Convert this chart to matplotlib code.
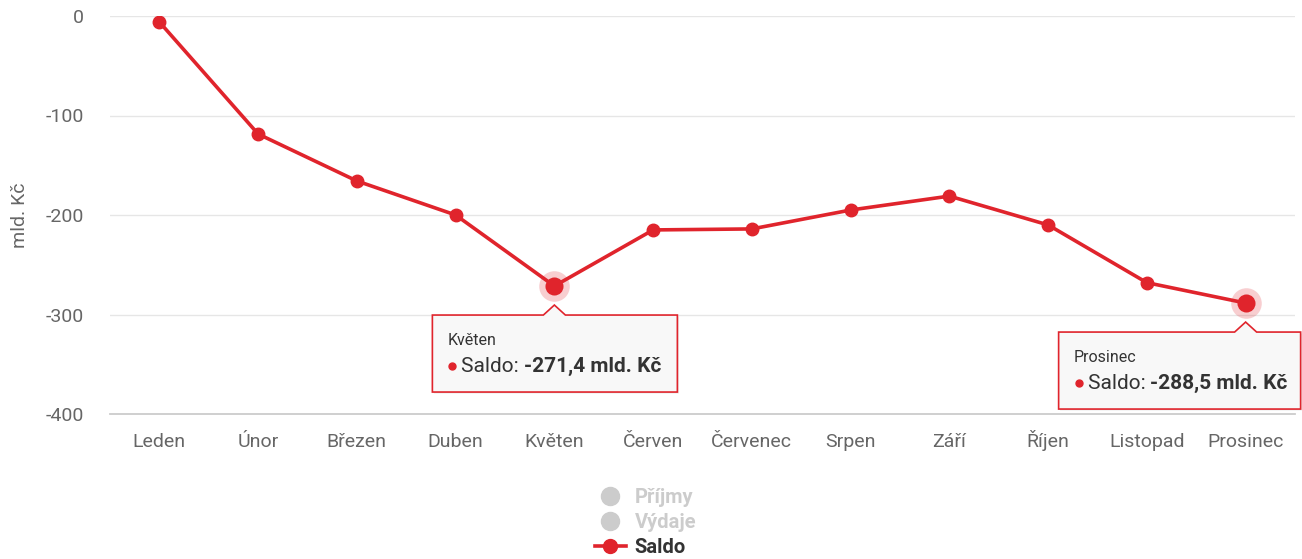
import matplotlib.pyplot as plt
from matplotlib import transforms
from matplotlib.lines import Line2D
from matplotlib.patches import Polygon

# data (mld. Kč)
months = ['Leden', 'Únor', 'Březen', 'Duben', 'Květen', 'Červen',
          'Červenec', 'Srpen', 'Září', 'Říjen', 'Listopad', 'Prosinec']
saldo = [-6.0, -118.6, -165.8, -200.0, -271.4, -215.0,
         -214.0, -195.0, -181.0, -210.0, -268.0, -288.5]
yticks = [0, -100, -200, -300, -400]
highlight = [4, 11]
legend_labels = ['Příjmy', 'Výdaje', 'Saldo']

RED = '#e0242c'
GREY_TXT = '#666666'
plt.rcParams['font.family'] = ['Roboto', 'DejaVu Sans']

fig = plt.figure(figsize=(13.02, 5.59), dpi=100)
ax = fig.add_axes([110 / 1302, 145 / 559, 1185 / 1302, 398 / 559])

x = list(range(len(months)))
ax.plot(x, saldo, color=RED, lw=2.6, marker='o', ms=9, zorder=3)

ax.set_xlim(-0.5, len(months) - 0.5)
ax.set_ylim(-400, 0)
ax.set_xticks(x)
ax.set_xticklabels(months, va='baseline')
ax.set_yticks(yticks)
ax.set_yticklabels([str(t) for t in yticks])
ax.tick_params(length=0, labelsize=14, labelcolor=GREY_TXT)
ax.tick_params(axis='x', pad=23.5)
ax.tick_params(axis='y', pad=19)
ax.set_ylabel('mld. Kč', fontsize=14, color=GREY_TXT, labelpad=12)
ax.grid(True, axis='y', color='#e6e6e6', lw=1)
ax.set_axisbelow(True)
for name, sp in ax.spines.items():
    sp.set_visible(name == 'bottom')
ax.spines['bottom'].set_color('#cccccc')
ax.spines['bottom'].set_linewidth(1.3)

# box layout in pixels relative to the hovered point: (left, right)
box_side = {4: (-122, 123), 11: (-187, 55)}
top, bottom, tip = -29, -106, -19

for i in highlight:
    xi, yi = x[i], saldo[i]
    ax.plot(xi, yi, 'o', ms=22, color=RED, alpha=0.22, mec='none', zorder=4)
    ax.plot(xi, yi, 'o', ms=13, color=RED, mec='none', zorder=5)

    trans = fig.dpi_scale_trans + transforms.ScaledTranslation(xi, yi, ax.transData)
    l, r = box_side[i]
    pts = [(l, top), (-11, top), (0, tip), (11, top), (r, top), (r, bottom), (l, bottom)]
    shadow = Polygon([(px / 100 + 0.015, py / 100 - 0.015) for px, py in pts],
                     closed=True, transform=trans, fc='#000000', alpha=0.08,
                     ec='none', zorder=6, clip_on=False)
    box = Polygon([(px / 100, py / 100) for px, py in pts], closed=True,
                  transform=trans, fc='#f8f8f8', ec=RED, lw=1.2, zorder=7,
                  clip_on=False)
    ax.add_patch(shadow)
    ax.add_patch(box)

    ax.text((l + 15) / 100, -0.54, months[i], transform=trans, fontsize=11.5,
            color='#333333', va='center', ha='left', zorder=8)
    ax.plot([(l + 20) / 100], [-0.80], 'o', ms=5, color=RED, transform=trans,
            zorder=8, clip_on=False)
    t1 = ax.text((l + 29) / 100, -0.80, 'Saldo: ', transform=trans, fontsize=15,
                 color='#333333', va='center', ha='left', zorder=8)
    val = f'{saldo[i]:.1f}'.replace('.', ',')
    ax.annotate(f'{val} mld. Kč', xy=(1, 0.5), xycoords=t1, va='center', ha='left',
                fontsize=15, fontweight='bold', color='#333333', zorder=8)

# legend
handles = [
    Line2D([], [], color='#cccccc', marker='o', ls='none', ms=13),
    Line2D([], [], color='#cccccc', marker='o', ls='none', ms=13),
    Line2D([], [], color=RED, marker='o', lw=2.6, ms=10),
]
leg = fig.legend(handles, legend_labels, loc='center', bbox_to_anchor=(0.496, 0.066),
                 frameon=False, prop={'size': 14.5, 'weight': 'bold'},
                 handlelength=1.5, handletextpad=0.45, labelspacing=0.3)
for txt, c in zip(leg.get_texts(), ['#cccccc', '#cccccc', '#333333']):
    txt.set_color(c)

fig.savefig('out.png', dpi=100)
